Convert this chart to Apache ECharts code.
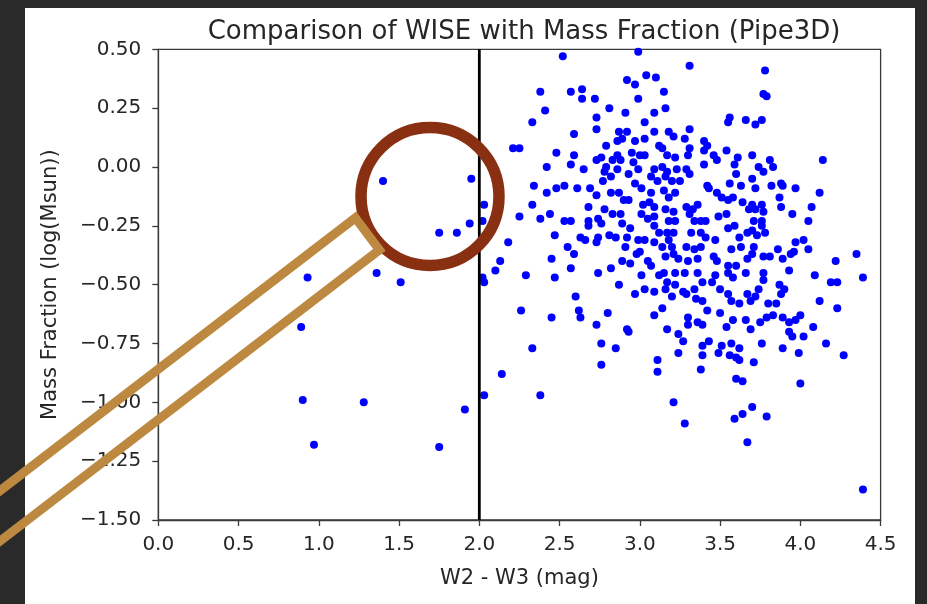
<!DOCTYPE html>
<html>
<head>
<meta charset="utf-8">
<script src="https://cdn.jsdelivr.net/npm/echarts@6/dist/echarts.min.js"></script>
<style>
html,body{margin:0;padding:0;background:#2a2a2a;}
#chart{width:927px;height:604px;}
</style>
</head>
<body>
<div id="chart"></div>
<script>
// ---- data ----
const chartTitle = 'Comparison of WISE with Mass Fraction (Pipe3D)';
const xAxisName = 'W2 - W3 (mag)';
const yAxisName = 'Mass Fraction (log(Msun))';
const xTicks = [0.0, 0.5, 1.0, 1.5, 2.0, 2.5, 3.0, 3.5, 4.0, 4.5];
const yTicks = [-1.50, -1.25, -1.00, -0.75, -0.50, -0.25, 0.00, 0.25, 0.50];
const cutLineX = 2.0;

// [W2-W3 colour, mass fraction]
const leftGroup = [
  [0.89,-0.68],[0.90,-0.99],[0.93,-0.47],[0.97,-1.18],[1.28,-1.00],[1.36,-0.45],[1.40,-0.06],
  [1.51,-0.49],[1.75,-0.28],[1.75,-1.19],[1.86,-0.28],[1.91,-1.03],[1.94,-0.24],[1.95,-0.05]
];
const nearCut = [
  [2.02,-0.23],[2.03,-0.16],[2.02,-0.47],[2.03,-0.49],[2.03,-0.97],[2.10,-0.44],[2.13,-0.40],
  [2.14,-0.88],[2.18,-0.32],[2.21,0.08],[2.25,0.08],[2.25,-0.21],[2.26,-0.61],[2.29,-0.46],[2.33,-0.77]
];
const band25 = [
  [2.52,0.47],[2.38,0.32],[2.57,0.32],[2.64,0.33],[2.64,0.29],[2.72,0.29],[2.81,0.25],[2.41,0.24],
  [2.33,0.19],[2.73,0.21],[2.73,0.16],[2.59,0.14],[2.48,0.06],[2.59,0.05],[2.79,0.09],[2.86,0.11],
  [2.42,0.00],[2.57,0.01],[2.65,-0.01],[2.73,0.03],[2.76,0.04],[2.79,0.00],[2.83,0.03],[2.78,-0.02],
  [2.82,-0.04],[2.77,-0.06],[2.34,-0.08],[2.48,-0.09],[2.53,-0.08],[2.61,-0.09],[2.69,-0.09],[2.73,-0.12],
  [2.82,-0.11],[2.42,-0.11],[2.33,-0.16],[2.68,-0.17],[2.78,-0.18],[2.44,-0.20],[2.38,-0.22],[2.53,-0.23],
  [2.57,-0.23],[2.68,-0.23],[2.68,-0.25],[2.74,-0.22],[2.76,-0.24],[2.83,-0.20],[2.47,-0.29],[2.63,-0.30],
  [2.66,-0.31],[2.73,-0.32],[2.74,-0.30],[2.81,-0.29],[2.85,-0.30],[2.55,-0.34],[2.59,-0.37],[2.45,-0.39],
  [2.57,-0.43],[2.47,-0.47],[2.74,-0.45],[2.82,-0.43],
  [2.87,-0.50],[2.60,-0.55],[2.45,-0.64],[2.62,-0.61],[2.63,-0.64],[2.80,-0.62],[2.73,-0.67],[2.76,-0.75],
  [2.85,-0.77],[2.76,-0.84],[2.38,-0.97]
];
const band30 = [
  [2.99,0.49],[3.31,0.43],[2.92,0.37],[2.97,0.35],[3.04,0.39],[3.10,0.38],[3.15,0.32],[2.99,0.29],
  [2.91,0.23],[3.09,0.23],[3.16,0.25],[3.03,0.19],[3.56,0.21],[3.55,0.19],[3.66,0.20],[2.87,0.15],
  [2.92,0.15],[3.09,0.15],[3.18,0.15],[3.21,0.13],[3.31,0.16],[3.28,0.12],[3.40,0.11],[3.42,0.09],
  [2.89,0.12],[2.97,0.11],[3.03,0.12],[3.12,0.09],[3.14,0.08],[3.31,0.08],[3.30,0.05],[3.54,0.07],
  [3.46,0.05],[3.48,0.03],[3.40,0.07],[2.86,0.05],[2.88,0.03],[2.95,0.06],[3.00,0.05],[3.03,0.05],
  [3.17,0.05],[3.22,0.04],[3.61,0.04],[3.59,0.01],[3.40,0.01],[2.96,0.02],[2.86,-0.01],[2.93,-0.03],
  [2.99,-0.01],[3.09,-0.01],[3.14,0.00],[3.17,-0.02],[3.23,-0.01],[3.29,-0.01],[3.31,-0.03],[3.07,-0.04],
  [3.11,-0.06],[3.16,-0.04],[3.20,-0.06],[3.60,-0.03],[3.25,-0.06],[2.97,-0.07],[3.01,-0.09],[3.42,-0.08],
  [3.43,-0.09],[3.56,-0.07],[3.63,-0.08],[2.87,-0.11],[3.07,-0.11],[3.15,-0.10],[3.18,-0.13],[3.22,-0.11],
  [3.48,-0.11],[3.51,-0.13],[3.55,-0.14],[3.58,-0.13],[2.90,-0.14],[2.93,-0.14],[3.02,-0.16],[3.06,-0.15],
  [3.09,-0.17],[3.16,-0.18],[3.21,-0.19],[3.29,-0.17],[3.33,-0.18],[3.36,-0.16],[3.64,-0.15],[3.68,-0.18],
  [2.88,-0.20],[3.01,-0.20],[3.05,-0.22],[3.09,-0.21],[3.31,-0.20],[3.34,-0.23],[3.38,-0.23],[3.41,-0.23],
  [3.49,-0.21],[3.54,-0.20],[3.18,-0.23],[3.22,-0.23],[2.89,-0.24],[2.94,-0.26],[3.09,-0.25],[3.12,-0.28],
  [3.55,-0.26],[3.59,-0.25],[3.17,-0.28],[3.21,-0.28],[3.18,-0.31],[3.32,-0.28],[3.38,-0.28],[3.41,-0.30],
  [3.47,-0.31],[3.62,-0.30],[3.67,-0.28],[2.92,-0.30],[2.99,-0.31],[3.03,-0.31],[2.91,-0.34],[3.09,-0.32],
  [3.14,-0.34],[3.20,-0.34],[3.29,-0.34],[3.34,-0.35],[3.38,-0.34],[3.57,-0.35],[3.63,-0.34],[2.98,-0.37],
  [3.00,-0.36],[3.16,-0.38],[3.21,-0.37],[3.24,-0.39],[3.30,-0.40],[3.36,-0.39],[3.46,-0.38],[3.48,-0.40],
  [3.67,-0.39],[3.70,-0.37],[2.89,-0.40],[2.94,-0.41],[3.05,-0.40],[3.07,-0.42],[3.55,-0.42],[3.60,-0.42]
];
const band35low = [
  [2.97,-0.54],[3.03,-0.52],[3.09,-0.53],[3.16,-0.52],[3.17,-0.49],[3.20,-0.55],[3.22,-0.50],[3.27,-0.53],
  [3.29,-0.54],[3.34,-0.52],[3.35,-0.56],[3.39,-0.57],[3.39,-0.49],[3.45,-0.49],[3.50,-0.52],[3.55,-0.54],
  [3.57,-0.57],[3.62,-0.58],[3.67,-0.54],[3.69,-0.57],[3.09,-0.63],[3.14,-0.60],[3.42,-0.61],[3.50,-0.62],
  [3.30,-0.64],[3.30,-0.67],[3.36,-0.66],[3.39,-0.67],[3.58,-0.65],[3.54,-0.68],[3.66,-0.65],[3.69,-0.69],
  [2.92,-0.69],[2.93,-0.70],[3.17,-0.69],[3.24,-0.71],[3.27,-0.74],[3.43,-0.74],[3.39,-0.76],[3.51,-0.76],
  [3.57,-0.75],[3.62,-0.77],[3.24,-0.79],[3.39,-0.80],[3.49,-0.79],[3.56,-0.80],[3.60,-0.81],[3.62,-0.82],
  [3.11,-0.82],[3.11,-0.87],[3.38,-0.86],[3.71,-0.83],[3.60,-0.90],[3.64,-0.91],[3.21,-1.00],[3.28,-1.09],
  [3.59,-1.07],[3.64,-1.05],[3.70,-1.02],[3.67,-1.17],
  [3.01,-0.46],[3.12,-0.46],[3.15,-0.45],[3.22,-0.45],[3.28,-0.45],[3.36,-0.45],[3.47,-0.46],[3.55,-0.45],
  [3.58,-0.47],[3.66,-0.45]
];
const band40 = [
  [3.78,0.41],[3.77,0.31],[3.79,0.30],[3.72,0.18],[3.76,0.20],[3.70,0.05],[3.81,0.03],[3.83,0.00],
  [3.74,0.00],[3.77,-0.02],[4.14,0.03],[3.70,-0.05],[3.72,-0.09],[3.82,-0.08],[3.88,-0.07],[3.89,-0.08],
  [3.97,-0.09],[4.12,-0.11],[3.87,-0.13],[3.88,-0.17],[3.70,-0.16],[3.72,-0.18],[3.76,-0.16],[3.77,-0.19],
  [3.71,-0.23],[3.76,-0.23],[3.95,-0.20],[4.07,-0.17],[4.05,-0.23],[3.70,-0.27],[3.73,-0.29],[3.76,-0.25],
  [3.78,-0.28],[3.97,-0.32],[4.02,-0.31],[3.71,-0.34],[3.86,-0.35],[3.89,-0.39],[3.94,-0.37],[3.96,-0.36],
  [4.05,-0.35],[3.77,-0.38],[3.81,-0.38],[4.22,-0.40],[4.35,-0.37],
  [3.77,-0.45],[3.77,-0.48],[3.93,-0.44],[4.09,-0.46],[4.19,-0.49],[4.23,-0.49],[4.39,-0.47],[3.87,-0.50],
  [3.90,-0.52],[3.88,-0.54],[3.74,-0.52],[3.72,-0.55],[3.80,-0.58],[3.85,-0.58],[4.12,-0.57],[4.23,-0.60],
  [3.79,-0.64],[3.83,-0.63],[3.89,-0.64],[3.93,-0.66],[3.97,-0.65],[4.00,-0.63],[3.75,-0.66],[3.93,-0.70],
  [3.95,-0.72],[4.02,-0.72],[4.08,-0.68],[3.76,-0.75],[3.89,-0.77],[3.99,-0.79],[4.16,-0.75],[4.27,-0.80],
  [4.00,-0.92],[3.79,-1.06],[4.39,-1.37]
];

// ---- chart ----
const FONT = 'DejaVu Sans';
const TXT = '#262626';
const fmt = (v, d) => v.toFixed(d).replace('-', '\u2212');
const allPoints = [].concat(leftGroup, nearCut, band25, band30, band35low, band40);

const chart = echarts.init(document.getElementById('chart'), null, {renderer: 'canvas'});
chart.setOption({
  backgroundColor: '#2a2a2a',
  animation: false,
  textStyle: {fontFamily: FONT},
  title: {
    text: chartTitle,
    left: 519, top: 14, textAlign: 'center',
    textStyle: {fontFamily: FONT, fontSize: 26, fontWeight: 'normal', color: TXT}
  },
  grid: {
    left: 158.3, top: 49.3, width: 722.3, height: 470.7,
    show: true, borderColor: '#3a3a3a', borderWidth: 1.3, backgroundColor: 'transparent'
  },
  xAxis: {
    type: 'value', min: xTicks[0], max: xTicks[xTicks.length - 1], interval: 0.5,
    name: xAxisName, nameLocation: 'middle', nameGap: 48,
    nameTextStyle: {fontFamily: FONT, fontSize: 21, color: TXT},
    axisLine: {show: true, onZero: false, lineStyle: {color: '#3a3a3a', width: 1.3}},
    axisTick: {show: true, inside: false, length: 6, lineStyle: {color: '#3a3a3a', width: 1.3}},
    axisLabel: {margin: 15, fontFamily: FONT, fontSize: 20, color: TXT, formatter: v => fmt(v, 1)},
    splitLine: {show: false}
  },
  yAxis: {
    type: 'value', min: yTicks[0], max: yTicks[yTicks.length - 1], interval: 0.25,
    name: yAxisName, nameLocation: 'middle', nameGap: 97,
    nameTextStyle: {fontFamily: FONT, fontSize: 21, color: TXT},
    axisLine: {show: true, onZero: false, lineStyle: {color: '#3a3a3a', width: 1.3}},
    axisTick: {show: true, inside: false, length: 6, lineStyle: {color: '#3a3a3a', width: 1.3}},
    axisLabel: {margin: 17, fontFamily: FONT, fontSize: 20, color: TXT, formatter: v => fmt(v, 2)},
    splitLine: {show: false}
  },
  series: [
    {
      type: 'scatter', data: allPoints, symbol: 'circle', symbolSize: 8,
      itemStyle: {color: '#0000ff', opacity: 1}, z: 2
    },
    {
      type: 'line', data: [[cutLineX, yTicks[0]], [cutLineX, yTicks[yTicks.length - 1]]],
      symbol: 'none', lineStyle: {color: '#000000', width: 2.8}, z: 3, silent: true
    }
  ],
  graphic: [
    {type: 'rect', z: -10, silent: true, shape: {x: 25, y: 8, width: 890, height: 600},
     style: {fill: '#ffffff'}},
    {type: 'circle', z: 100, silent: true, shape: {cx: 430, cy: 196.5, r: 69},
     style: {fill: 'none', stroke: '#8a3012', lineWidth: 11.5}},
    {type: 'polygon', z: 100, silent: true,
     shape: {points: [[355.3, 217.9], [379.4, 249.8], [-100, 618], [-124, 586]]},
     style: {fill: 'none', stroke: '#bd8840', lineWidth: 9}}
  ]
});
</script>
</body>
</html>
